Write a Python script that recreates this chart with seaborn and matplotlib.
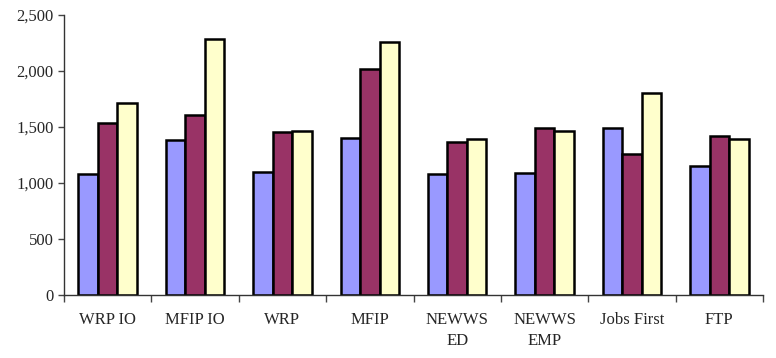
import matplotlib
matplotlib.use("Agg")
import matplotlib.pyplot as plt
from matplotlib.ticker import FuncFormatter, FixedLocator
import pandas as pd
import seaborn as sns

programs = ["WRP IO", "MFIP IO", "WRP", "MFIP", "NEWWS\nED", "NEWWS\nEMP", "Jobs First", "FTP"]
series_names = ["Series 1", "Series 2", "Series 3"]
series1 = [1083, 1381, 1098, 1405, 1077, 1086, 1488, 1149]
series2 = [1533, 1604, 1455, 2015, 1369, 1491, 1262, 1420]
series3 = [1714, 2289, 1461, 2262, 1393, 1464, 1806, 1390]
colors = ["#9999FF", "#993366", "#FFFFCC"]

rows = []
for name, vals in zip(series_names, [series1, series2, series3]):
    for p, v in zip(programs, vals):
        rows.append({"program": p, "series": name, "value": v})
df = pd.DataFrame(rows)

sns.set_style("white")
plt.rcParams['font.family'] = ['Liberation Serif', 'DejaVu Serif']

fig = plt.figure(figsize=(7.76, 3.58), dpi=100)
ax = fig.add_axes([64 / 776, 1 - 295 / 358, 699 / 776, 280 / 358])

sns.barplot(data=df, x="program", y="value", hue="series", order=programs,
            hue_order=series_names, palette=colors, saturation=1, width=0.67, gap=0,
            edgecolor="black", linewidth=1.8, legend=False, ax=ax)

ax.set_xlim(-0.5, len(programs) - 0.5)
ax.set_ylim(0, 2500)
ax.set_yticks(range(0, 2501, 500))
ax.yaxis.set_major_formatter(FuncFormatter(lambda v, _: f"{int(v):,}"))
ax.set_xlabel("")
ax.set_ylabel("")

ax.xaxis.set_minor_locator(FixedLocator([i - 0.5 for i in range(len(programs) + 1)]))
ax.tick_params(axis="x", which="major", length=0, pad=12, labelsize=12)
ax.tick_params(axis="x", which="minor", length=5, width=1, color="#444444", direction="out", bottom=True)
ax.tick_params(axis="y", length=4, width=1, color="#444444", direction="out", left=True, labelsize=12)
for lbl in ax.get_xticklabels():
    lbl.set_linespacing(1.45)
    lbl.set_verticalalignment("top")

for s in ["top", "right"]:
    ax.spines[s].set_visible(False)
for s in ["left", "bottom"]:
    ax.spines[s].set_color("#333333")
    ax.spines[s].set_linewidth(1)

fig.savefig("out.png", dpi=100)
